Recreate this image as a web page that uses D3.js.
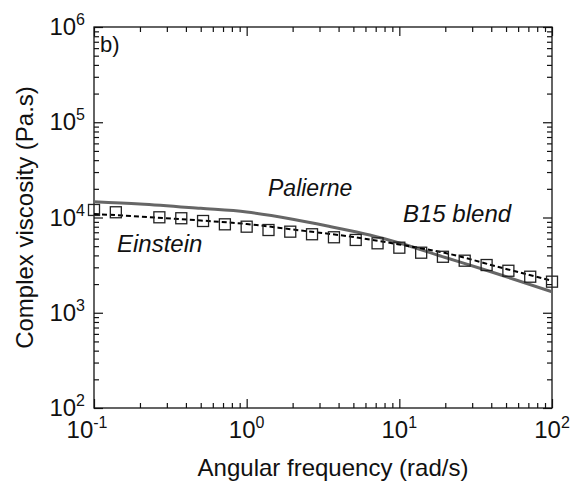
<!DOCTYPE html>
<html><head><meta charset="utf-8">
<script src="https://cdn.jsdelivr.net/npm/d3@7"></script>
<style>
body{margin:0;background:#fff}
text{font-family:"Liberation Sans",Arial,Helvetica,sans-serif;fill:#111}
</style></head>
<body><svg id="c" width="573" height="491"></svg>
<script>
// ---- data ----
const freqData = [0.1,0.139,0.268,0.373,0.518,0.72,1,1.39,1.93,2.68,3.73,5.18,7.2,10,13.9,19.3,26.8,37.3,51.8,72,100];
const viscData = [12000,11350,10050,9820,9190,8480,8010,7390,7100,6670,6200,5810,5360,4820,4270,3870,3520,3170,2760,2390,2120];
const einsteinFreq = [0.1,0.2,0.5,1,2,5,10,20,50,100];
const einsteinVisc = [10900,10230,9300,8550,7480,6240,5210,4240,2880,2170];
const palierneFreq = [0.1,0.2,0.5,1,2,3.5,6.4,10,20,33.7,100];
const palierneVisc = [14650,13870,12470,11420,9600,8050,6550,5400,3800,2930,1660];
const xTickValues = [0.1,1,10,100];
const xTickExponents = ["-1","0","1","2"];
const yTickValues = [1e2,1e3,1e4,1e5,1e6];
const yTickExponents = ["2","3","4","5","6"];
const labelTexts = ["Palierne","B15 blend","Einstein","b)"];
const xTitle = "Angular frequency (rad/s)";
const yTitle = "Complex viscosity (Pa.s)";

// ---- layout ----
const W=573,H=491;
const m={l:94,t:27,r:21,b:83};
const pw=W-m.l-m.r, ph=H-m.t-m.b;
const svg=d3.select("#c");
const g=svg.append("g").attr("transform",`translate(${m.l},${m.t})`);
const x=d3.scaleLog().domain([0.1,100]).range([0,pw]);
const y=d3.scaleLog().domain([1e2,1e6]).range([ph,0]);

function minors(domain){
  const out=[];
  for(let e=Math.log10(domain[0]);e<Math.log10(domain[1]);e++){
    for(let k=2;k<=9;k++) out.push(k*Math.pow(10,e));
  }
  return out;
}
const xMin=minors([0.1,100]), yMin=minors([1e2,1e6]);

function styleAxis(sel){
  sel.select(".domain").remove();
  sel.selectAll("line").attr("stroke","#111").attr("stroke-width",1.2);
}
// bottom
g.append("g").attr("transform",`translate(0,${ph})`).call(d3.axisBottom(x).tickValues(xTickValues).tickSize(-9).tickFormat("")).call(styleAxis);
g.append("g").attr("transform",`translate(0,${ph})`).call(d3.axisBottom(x).tickValues(xMin).tickSize(-5).tickFormat("")).call(styleAxis);
// top
g.append("g").call(d3.axisTop(x).tickValues(xTickValues).tickSize(-9).tickFormat("")).call(styleAxis);
g.append("g").call(d3.axisTop(x).tickValues(xMin).tickSize(-5).tickFormat("")).call(styleAxis);
// left
g.append("g").call(d3.axisLeft(y).tickValues(yTickValues).tickSize(-9).tickFormat("")).call(styleAxis);
g.append("g").call(d3.axisLeft(y).tickValues(yMin).tickSize(-5).tickFormat("")).call(styleAxis);
// right
g.append("g").attr("transform",`translate(${pw},0)`).call(d3.axisRight(y).tickValues(yTickValues).tickSize(-9).tickFormat("")).call(styleAxis);
g.append("g").attr("transform",`translate(${pw},0)`).call(d3.axisRight(y).tickValues(yMin).tickSize(-5).tickFormat("")).call(styleAxis);

// frame
g.append("rect").attr("width",pw).attr("height",ph).attr("fill","none").attr("stroke","#111").attr("stroke-width",1.3);

// x tick labels
xTickValues.forEach((v,i)=>{
  const t=g.append("text").attr("x",x(v)+(xTickExponents[i].startsWith("-")?-7:0)).attr("y",ph+30)
    .attr("text-anchor","middle").attr("font-size",24);
  t.append("tspan").text("10");
  t.append("tspan").attr("font-size",16).attr("dy",-10).text(xTickExponents[i]);
});
// y tick labels
yTickValues.forEach((v,i)=>{
  const t=g.append("text").attr("x",-9).attr("y",y(v)+8).attr("text-anchor","end").attr("font-size",24);
  t.append("tspan").text("10");
  t.append("tspan").attr("font-size",16).attr("dy",-10).text(yTickExponents[i]);
});

// titles
svg.append("text").attr("x",333).attr("y",476).attr("text-anchor","middle").attr("font-size",24).text(xTitle);
svg.append("text").attr("transform",`translate(33,${m.t+ph/2}) rotate(-90)`).attr("text-anchor","middle").attr("font-size",24).text(yTitle);

// lines
const line=d3.line().x(d=>x(d[0])).y(d=>y(d[1])).curve(d3.curveMonotoneX);
g.append("path").datum(palierneFreq.map((f,i)=>[f,palierneVisc[i]])).attr("d",line)
  .attr("fill","none").attr("stroke","#666").attr("stroke-width",3);
g.append("path").datum(einsteinFreq.map((f,i)=>[f,einsteinVisc[i]])).attr("d",line)
  .attr("fill","none").attr("stroke","#000").attr("stroke-width",2).attr("stroke-dasharray","5,3");
// squares
const s=11;
g.selectAll("rect.pt").data(freqData.map((f,i)=>[f,viscData[i]])).enter().append("rect").attr("class","pt")
  .attr("x",d=>x(d[0])-s/2).attr("y",d=>y(d[1])-s/2).attr("width",s).attr("height",s)
  .attr("fill","none").attr("stroke","#222").attr("stroke-width",1.3);

// annotations
svg.append("text").attr("x",268).attr("y",196).attr("font-size",23).attr("font-style","italic").text(labelTexts[0]);
svg.append("text").attr("x",403).attr("y",222).attr("font-size",24).attr("font-style","italic").text(labelTexts[1]);
svg.append("text").attr("x",117).attr("y",252).attr("font-size",24).attr("font-style","italic").text(labelTexts[2]);
svg.append("text").attr("x",100).attr("y",52).attr("font-size",22).text(labelTexts[3]);
</script></body></html>
